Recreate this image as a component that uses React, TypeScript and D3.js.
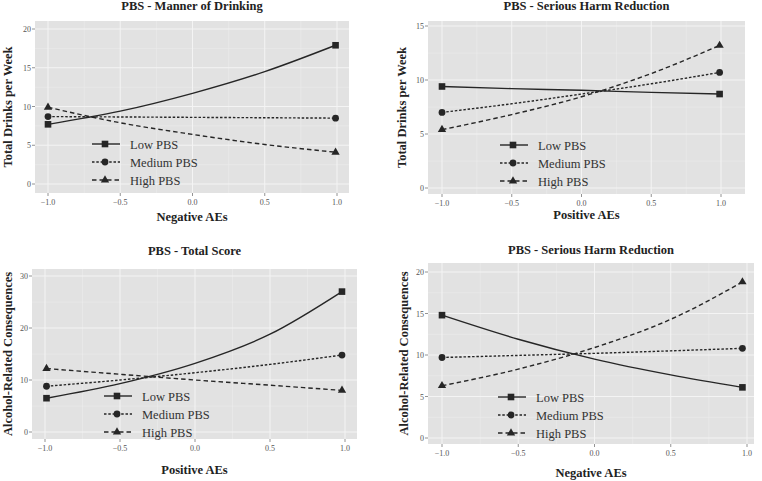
import React from 'react'
import * as d3 from 'd3'

// series values at x = -1, -0.5, 0, 0.5, end
const seriesNames = ['Low PBS', 'Medium PBS', 'High PBS']

const p1X = [-1, -0.5, 0, 0.5, 0.99]
const p1Low = [7.7, 9.4, 11.7, 14.5, 17.9]
const p1Med = [8.7, 8.65, 8.6, 8.55, 8.5]
const p1High = [9.9, 7.9, 6.4, 5.1, 4.1]

const p2X = [-1, -0.5, 0, 0.5, 0.99]
const p2Low = [9.4, 9.2, 9.05, 8.85, 8.7]
const p2Med = [7.0, 7.8, 8.7, 9.65, 10.7]
const p2High = [5.4, 6.8, 8.45, 10.6, 13.2]

const p3X = [-0.99, -0.5, 0, 0.5, 0.98]
const p3Low = [6.5, 9.3, 13.2, 18.8, 27.0]
const p3Med = [8.8, 10.0, 11.4, 13.0, 14.8]
const p3High = [12.2, 11.1, 10.0, 9.0, 8.0]

const p4X = [-1, -0.5, 0, 0.5, 0.97]
const p4Low = [14.8, 11.9, 9.5, 7.6, 6.1]
const p4Med = [9.7, 9.95, 10.2, 10.5, 10.8]
const p4High = [6.3, 8.3, 10.9, 14.3, 18.8]

const xTicks = [-1, -0.5, 0, 0.5, 1]

const dashes = [null, '2.5,1.8', '4.5,3']
const ink = '#262626'
const serif = "'Liberation Serif', 'DejaVu Serif', serif"

const panels = [
    {
        title: 'PBS - Manner of Drinking', xTitle: 'Negative AEs', yTitle: 'Total Drinks per Week',
        xs: p1X, series: [p1Low, p1Med, p1High], yMax: 20, yStep: 5,
        box: [35, 21, 349, 193], xr: [48, 337], yr: [184, 29],
        titleY: 10, xTitleY: 221, yTitleX: 12, legend: [92, 144],
    },
    {
        title: 'PBS - Serious Harm Reduction', xTitle: 'Positive AEs', yTitle: 'Total Drinks per Week',
        xs: p2X, series: [p2Low, p2Med, p2High], yMax: 15, yStep: 5,
        box: [428, 21, 745, 194], xr: [442, 721], yr: [188, 26],
        titleY: 10, xTitleY: 219, yTitleX: 406, legend: [500, 145],
    },
    {
        title: 'PBS - Total Score', xTitle: 'Positive AEs', yTitle: 'Alcohol-Related Consequences',
        xs: p3X, series: [p3Low, p3Med, p3High], yMax: 30, yStep: 10,
        box: [32, 269, 357, 439], xr: [45, 345], yr: [432, 276],
        titleY: 255, xTitleY: 474, yTitleX: 12, legend: [104, 396],
    },
    {
        title: 'PBS - Serious Harm Reduction', xTitle: 'Negative AEs', yTitle: 'Alcohol-Related Consequences',
        xs: p4X, series: [p4Low, p4Med, p4High], yMax: 20, yStep: 5,
        box: [428, 263, 754, 444], xr: [442, 747], yr: [438, 272],
        titleY: 254, xTitleY: 477, yTitleX: 408, legend: [498, 397],
    },
]

function Marker({ kind, x, y }) {
    if (kind === 0) return <rect x={x - 3.3} y={y - 3.3} width={6.6} height={6.6} fill={ink} />
    if (kind === 1) return <circle cx={x} cy={y} r={3.4} fill={ink} />
    const s = d3.symbol().type(d3.symbolTriangle).size(30)
    return <path d={s()} transform={`translate(${x},${y})`} fill={ink} />
}

function Panel({ p }) {
    const [x0, y0, x1, y1] = p.box
    const x = d3.scaleLinear().domain([-1, 1]).range(p.xr)
    const y = d3.scaleLinear().domain([0, p.yMax]).range(p.yr)
    const yTicks = d3.range(0, p.yMax + 0.001, p.yStep)
    const line = d3.line().x(d => x(d[0])).y(d => y(d[1])).curve(d3.curveMonotoneX)
    const xMinor = d3.range(-1.25, 1.3, 0.5).filter(v => x(v) > x0 && x(v) < x1)
    const yMinor = d3.range(-p.yStep / 2, p.yMax + p.yStep, p.yStep).filter(v => y(v) > y0 && y(v) < y1)
    const [lx, ly] = p.legend
    const txt = { fontFamily: serif }
    const bold = { fontFamily: serif, fontWeight: 700 }

    return (
        <g>
            <rect x={x0} y={y0} width={x1 - x0} height={y1 - y0} fill="#e2e2e2" />
            {xMinor.map(v => <line key={'xm' + v} x1={x(v)} x2={x(v)} y1={y0} y2={y1} stroke="#ececec" strokeWidth={0.6} />)}
            {yMinor.map(v => <line key={'ym' + v} y1={y(v)} y2={y(v)} x1={x0} x2={x1} stroke="#ececec" strokeWidth={0.6} />)}
            {xTicks.map(v => <line key={'xg' + v} x1={x(v)} x2={x(v)} y1={y0} y2={y1} stroke="#f4f4f4" strokeWidth={1} />)}
            {yTicks.map(v => <line key={'yg' + v} y1={y(v)} y2={y(v)} x1={x0} x2={x1} stroke="#f4f4f4" strokeWidth={1} />)}

            {p.series.map((vals, i) => (
                <path key={'s' + i} d={line(p.xs.map((v, j) => [v, vals[j]]))} fill="none"
                    stroke={ink} strokeWidth={1.4} strokeDasharray={dashes[i] || undefined} />
            ))}
            {p.series.map((vals, i) => (
                <g key={'m' + i}>
                    <Marker kind={i} x={x(p.xs[0])} y={y(vals[0])} />
                    <Marker kind={i} x={x(p.xs[p.xs.length - 1])} y={y(vals[vals.length - 1])} />
                </g>
            ))}

            {seriesNames.map((name, i) => (
                <g key={'l' + i} transform={`translate(${lx},${ly + i * 18})`}>
                    <line x1={0} x2={28} y1={0} y2={0} stroke={ink} strokeWidth={1.4} strokeDasharray={dashes[i] || undefined} />
                    <Marker kind={i} x={13} y={0} />
                    <text x={38} y={4.5} style={txt} fontSize={12.5} fill="#333">{name}</text>
                </g>
            ))}

            {xTicks.map(v => (
                <g key={'xt' + v}>
                    <line x1={x(v)} x2={x(v)} y1={y1} y2={y1 + 3} stroke="#777" strokeWidth={0.8} />
                    <text x={x(v)} y={y1 + 12} textAnchor="middle" style={txt} fontSize={8} fill="#555">{d3.format('.1f')(v)}</text>
                </g>
            ))}
            {yTicks.map(v => (
                <g key={'yt' + v}>
                    <line x1={x0 - 3} x2={x0} y1={y(v)} y2={y(v)} stroke="#777" strokeWidth={0.8} />
                    <text x={x0 - 4} y={y(v) + 3} textAnchor="end" style={txt} fontSize={8} fill="#555">{v}</text>
                </g>
            ))}

            <text x={(x0 + x1) / 2} y={p.titleY} textAnchor="middle" style={bold} fontSize={12.5} fill="#222">{p.title}</text>
            <text x={(x0 + x1) / 2} y={p.xTitleY} textAnchor="middle" style={bold} fontSize={12.5} fill="#222">{p.xTitle}</text>
            <text transform={`translate(${p.yTitleX},${(y0 + y1) / 2}) rotate(-90)`} textAnchor="middle" style={bold}
                fontSize={12.5} fill="#222">{p.yTitle}</text>
        </g>
    )
}

export default function App() {
    return (
        <svg width={762} height={481} style={{ position: 'absolute', left: 0, top: 0, background: '#fff' }}>
            {panels.map((p, i) => <Panel key={i} p={p} />)}
        </svg>
    )
}
